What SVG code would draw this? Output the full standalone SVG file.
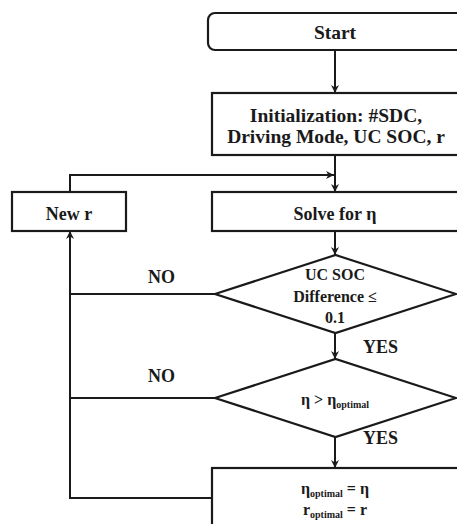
<svg xmlns="http://www.w3.org/2000/svg" width="457" height="524" viewBox="0 0 457 524">
<defs>
<marker id="ah" viewBox="0 0 10 10" refX="10" refY="5" markerWidth="8" markerHeight="8" markerUnits="userSpaceOnUse" orient="auto">
<path d="M0,0 L10,5 L0,10 L3,5 Z" fill="#1a1a1a"/>
</marker>
<style>
.b{fill:#fff;stroke:#1a1a1a;stroke-width:2.2}
.c{fill:none;stroke:#1a1a1a;stroke-width:2}
.t{font-family:"Liberation Serif","Times New Roman",serif;font-weight:bold;font-size:18px;fill:#1a1a1a;text-anchor:middle}
.s{font-size:16px}
.g{font-size:19.5px}
.l{font-family:"Liberation Serif","Times New Roman",serif;font-weight:bold;font-size:18px;fill:#1a1a1a}
</style>
</defs>
<rect width="457" height="524" fill="#fff"/>
<g id="connectors">
<path class="c" d="M335,50 V93" marker-end="url(#ah)"/>
<path class="c" d="M335,155 V192" marker-end="url(#ah)"/>
<path class="c" d="M70,192 V175 H334" marker-end="url(#ah)"/>
<path class="c" d="M335,231 V255" marker-end="url(#ah)"/>
<path class="c" d="M335,333 V359" marker-end="url(#ah)"/>
<path class="c" d="M335,437 V468" marker-end="url(#ah)"/>
<path class="c" d="M215,294 H70"/>
<path class="c" d="M215,398 H70"/>
<path class="c" d="M212,498 H70 V231" marker-end="url(#ah)"/>
<text class="l" x="148" y="283">NO</text>
<text class="l" x="148" y="382">NO</text>
<text class="l" x="363" y="353">YES</text>
<text class="l" x="363" y="444">YES</text>
</g>
<g id="start">
<rect class="b" x="208" y="13" width="258" height="37" rx="7"/>
<text class="t g" x="335" y="39">Start</text>
</g>
<g id="init">
<rect class="b" x="212" y="93" width="248" height="62"/>
<text class="t g" x="336" y="122">Initialization: #SDC,</text>
<text class="t g" x="336" y="143">Driving Mode, UC SOC, r</text>
</g>
<g id="newr">
<rect class="b" x="12" y="192" width="114" height="39"/>
<text class="t" x="69" y="220">New r</text>
</g>
<g id="solve">
<rect class="b" x="212" y="192" width="248" height="39"/>
<text class="t" x="335" y="220">Solve for η</text>
</g>
<g id="decision1">
<path class="b" d="M215,294 L335.5,255 L456,294 L335.5,333 Z"/>
<text class="t s" x="335" y="280">UC SOC</text>
<text class="t s" x="335" y="302">Difference ≤</text>
<text class="t s" x="335" y="323">0.1</text>
</g>
<g id="decision2">
<path class="b" d="M215,398 L335.5,359 L456,398 L335.5,437 Z"/>
<text class="t s" x="335" y="405">η &gt; η<tspan font-size="10" dy="3">optimal</tspan></text>
</g>
<g id="update">
<rect class="b" x="212" y="468" width="248" height="70"/>
<text class="t s" x="335" y="494">η<tspan font-size="10" dy="3">optimal</tspan><tspan dy="-3"> = η</tspan></text>
<text class="t s" x="335" y="515">r<tspan font-size="10" dy="3">optimal</tspan><tspan dy="-3"> = r</tspan></text>
</g>
</svg>
